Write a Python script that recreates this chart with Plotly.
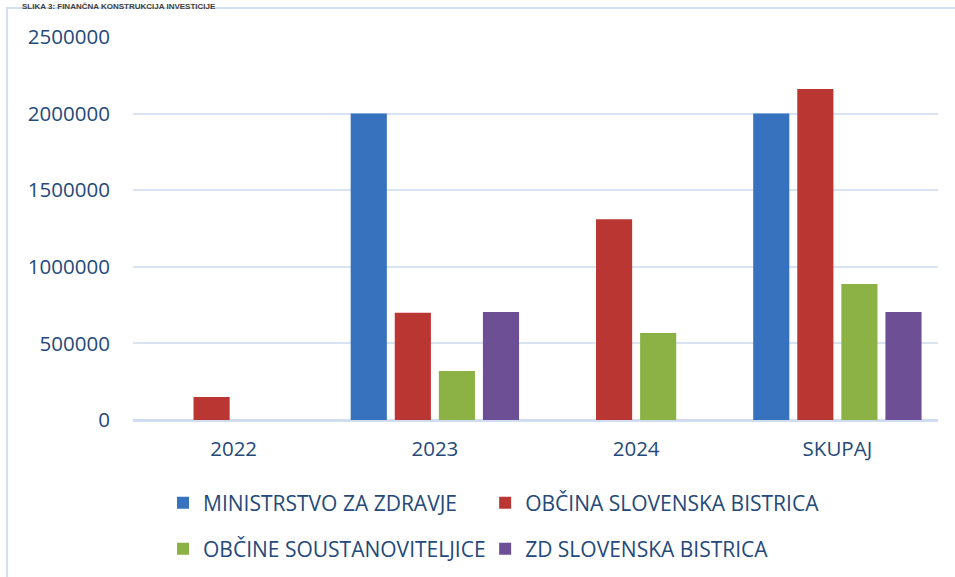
import plotly.graph_objects as go

categories = ["2022", "2023", "2024", "SKUPAJ"]
series_names = ["MINISTRSTVO ZA ZDRAVJE", "OBČINA SLOVENSKA BISTRICA",
                "OBČINE SOUSTANOVITELJICE", "ZD SLOVENSKA BISTRICA"]
ministrstvo = [None, 2000000, None, 2000000]
obcina_sb = [150000, 700000, 1310000, 2160000]
obcine_soust = [None, 320000, 568000, 888000]
zd_sb = [None, 705000, None, 705000]
y_ticks = [0, 500000, 1000000, 1500000, 2000000, 2500000]
title_text = "SLIKA 3: FINANČNA KONSTRUKCIJA INVESTICIJE"

colors = ["#3672bd", "#b93633", "#8cb145", "#6c4f95"]
values = [ministrstvo, obcina_sb, obcine_soust, zd_sb]
legend_ids = ["legend", "legend2", "legend3", "legend4"]
legend_pos = [(0.1707, 0.1282), (0.508, 0.1282), (0.1707, 0.0485), (0.508, 0.0485)]

fig = go.Figure()
for name, vals, col, lg in zip(series_names, values, colors, legend_ids):
    fig.add_trace(go.Bar(x=categories, y=vals, name=name, marker_color=col,
                         marker_line_width=0, legend=lg))

tick_font = dict(family="Open Sans", size=20.5, color="#24497a")
leg_font = dict(family="Open Sans", size=21, color="#24497a")

legend_layout = {}
for lg, (lx, ly) in zip(legend_ids, legend_pos):
    legend_layout[lg] = dict(orientation="h", xref="container", yref="container",
                             x=lx, y=ly, xanchor="left", yanchor="middle",
                             font=leg_font, itemwidth=30,
                             bgcolor="rgba(0,0,0,0)")

fig.update_layout(
    width=955, height=577,
    margin=dict(l=133, r=17, t=37, b=157, autoexpand=False),
    paper_bgcolor="white", plot_bgcolor="white",
    barmode="group", bargap=0.124, bargroupgap=0.18,
    font=tick_font,
    showlegend=True,
    xaxis=dict(showgrid=False, showline=False, ticks="outside", ticklen=10,
               tickcolor="rgba(0,0,0,0)", tickfont=tick_font, zeroline=False),
    yaxis=dict(range=[0, 2500000], tickvals=y_ticks,
               ticktext=[str(v) for v in y_ticks],
               showgrid=True, gridcolor="#d9e4f3", gridwidth=2,
               zeroline=True, zerolinecolor="#d0ddf0", zerolinewidth=3,
               ticks="outside", ticklen=18, tickcolor="rgba(0,0,0,0)",
               tickfont=tick_font, showline=False),
    shapes=[dict(type="rect", xref="paper", yref="paper",
                 x0=-0.1565, x1=1.2, y0=-0.7, y1=1.0757,
                 line=dict(color="#d3e0f1", width=2), fillcolor="rgba(0,0,0,0)",
                 layer="below")],
    annotations=[dict(text=title_text, xref="paper", yref="paper",
                      x=-0.14, y=1.0966, xanchor="left", yanchor="top",
                      showarrow=False,
                      font=dict(family="Liberation Sans", size=8, color="#404040",
                                weight="bold"))],
    **legend_layout,
)

fig.write_html("out.html", config={"displayModeBar": False},
               post_script="document.body.style.margin='0';")
